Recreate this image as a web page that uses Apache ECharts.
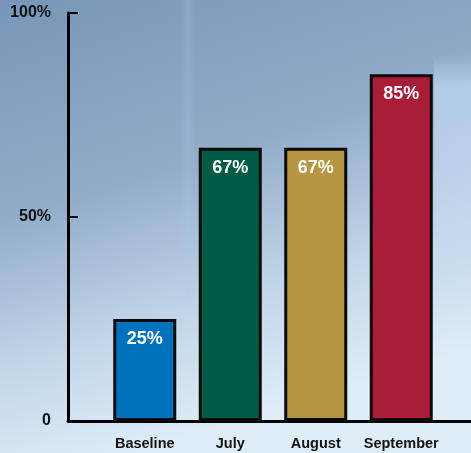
<!DOCTYPE html>
<html>
<head>
<meta charset="utf-8">
<title>Chart</title>
<script src="https://cdn.jsdelivr.net/npm/echarts@6/dist/echarts.min.js"></script>
<style>
  html, body { margin: 0; padding: 0; }
  #chart { width: 471px; height: 453px; }
</style>
</head>
<body>
<div id="chart"></div>
<script>
// data
var categories = ['Baseline', 'July', 'August', 'September'];
var values = [25, 67, 67, 85];
var barColors = ['#0071bc', '#005b46', '#b69642', '#a91d3b'];
var yTicks = [0, 50, 100];

var chart = echarts.init(document.getElementById('chart'));

var font = 'Liberation Sans, Arial, sans-serif';

var option = {
  backgroundColor: {
    type: 'linear', x: 0, y: 0, x2: 0.3, y2: 1,
    colorStops: [
      { offset: 0, color: '#7896b8' },
      { offset: 0.45, color: '#93adc9' },
      { offset: 0.75, color: '#c2d6e9' },
      { offset: 1, color: '#dfedf8' }
    ]
  },
  graphic: [
    // soft light patches in the background
    {
      type: 'rect', z: -10, silent: true,
      shape: { x: 434, y: 55, width: 37, height: 260 },
      style: {
        fill: {
          type: 'linear', x: 0, y: 0, x2: 0, y2: 1,
          colorStops: [
            { offset: 0, color: 'rgba(200,225,248,0)' },
            { offset: 0.12, color: 'rgba(200,225,248,0.6)' },
            { offset: 0.6, color: 'rgba(200,225,248,0.35)' },
            { offset: 1, color: 'rgba(200,225,248,0)' }
          ]
        }
      }
    },
    {
      type: 'rect', z: -10, silent: true,
      shape: { x: 180, y: 0, width: 16, height: 300 },
      style: {
        fill: {
          type: 'linear', x: 0, y: 0, x2: 1, y2: 0,
          colorStops: [
            { offset: 0, color: 'rgba(170,200,235,0)' },
            { offset: 0.5, color: 'rgba(170,200,235,0.25)' },
            { offset: 1, color: 'rgba(170,200,235,0)' }
          ]
        }
      }
    }
  ],
  grid: [
    { left: 102, right: 27, top: 13, bottom: 32 },
    { left: 68, right: 0, top: 13, bottom: 32 }
  ],
  xAxis: [
    {
      type: 'category',
      gridIndex: 0,
      data: categories,
      axisLine: { show: false },
      axisTick: { show: false },
      axisLabel: {
        interval: 0,
        color: '#111',
        fontFamily: font,
        fontWeight: 'bold',
        fontSize: 14.5,
        margin: 15
      }
    },
    {
      type: 'category',
      gridIndex: 1,
      data: [],
      axisLine: { show: true, lineStyle: { color: '#000', width: 3 } },
      axisTick: { show: false },
      axisLabel: { show: false }
    }
  ],
  yAxis: [
    {
      type: 'value',
      gridIndex: 0,
      min: 0,
      max: 100,
      interval: 50,
      offset: 34,
      axisLine: { show: true, lineStyle: { color: '#000', width: 3 } },
      axisTick: { show: true, inside: true, length: 10, lineStyle: { color: '#000', width: 2 } },
      splitLine: { show: false },
      axisLabel: {
        color: '#111',
        fontFamily: font,
        fontWeight: 'bold',
        fontSize: 16,
        margin: 17,
        formatter: function (v) {
          if (yTicks.indexOf(v) < 0) return '';
          return v === 0 ? '0' : v + '%';
        }
      }
    },
    {
      type: 'value',
      gridIndex: 1,
      min: 0,
      max: 100,
      show: false
    }
  ],
  series: [
    {
      type: 'bar',
      xAxisIndex: 0,
      yAxisIndex: 0,
      barWidth: 63,
      data: values.map(function (v, i) {
        return { value: v, itemStyle: { color: barColors[i] } };
      }),
      itemStyle: { borderColor: '#0a0a0a', borderWidth: 3 },
      label: {
        show: true,
        position: 'insideTop',
        distance: 11,
        color: '#fff',
        fontFamily: font,
        fontWeight: 'bold',
        fontSize: 18,
        formatter: '{c}%'
      },
      silent: true
    }
  ],
  animation: false
};

chart.setOption(option);
</script>
</body>
</html>
